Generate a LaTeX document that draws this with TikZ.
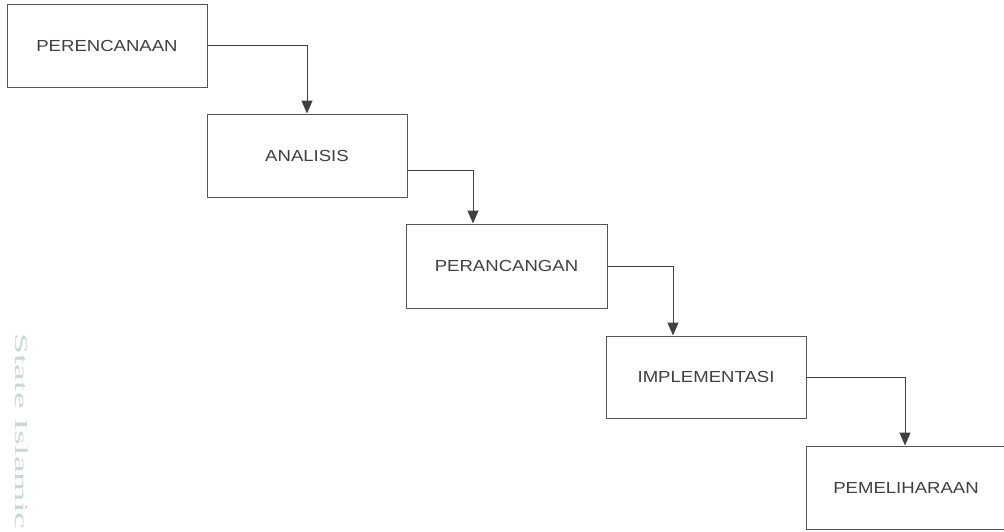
\documentclass[tikz,border=0pt]{standalone}
\usepackage{fontspec}
\setmainfont{Liberation Sans}
\newfontfamily\wmfont{Liberation Serif}
\usetikzlibrary{arrows.meta}
\definecolor{boxline}{HTML}{555555}
\definecolor{txt}{HTML}{404040}
\definecolor{wm}{HTML}{C8D8D5}
\tikzset{
  stage/.style={draw=boxline, line width=1pt, rectangle, minimum width=200pt, minimum height=83pt, inner sep=0pt,
    font=\fontsize{16}{18}\selectfont, text=txt},
  flow/.style={draw=txt, line width=1pt, -{Triangle[length=13pt,width=11pt]}},
}
\newcommand{\stx}[1]{\scalebox{1.16}[1]{#1}}
\begin{document}
\begin{tikzpicture}[x=1pt,y=-1pt]
\useasboundingbox (0,0) rectangle (1004,531);
\clip (0,0) rectangle (1004,531);
\fill[white] (0,0) rectangle (1004,531);
\node[text=wm, font=\wmfont\fontsize{18}{20}\selectfont, rotate=-90, anchor=base west, inner sep=0pt] (wmtext) at (15,333) {\scalebox{2.1}[1]{State Islamic}};
\node[stage] (b1) at (107,45.5) {\stx{PERENCANAAN}};
\node[stage] (b2) at (307,155.5) {\stx{ANALISIS}};
\node[stage, minimum width=201pt, minimum height=84pt] (b3) at (506.5,266) {\stx{PERANCANGAN}};
\node[stage, minimum height=82pt] (b4) at (706,377) {\stx{IMPLEMENTASI}};
\node[stage] (b5) at (906,487.5) {\stx{PEMELIHARAAN}};
\draw[flow] (b1.east) -| (b2.north);
\draw[flow] ([yshift=-14.5pt]b2.east) -| ([xshift=-33.5pt]b3.north);
\draw[flow] (b3.east) -| ([xshift=-33pt]b4.north);
\draw[flow] (b4.east) -| ([xshift=-1pt]b5.north);
\end{tikzpicture}
\end{document}
